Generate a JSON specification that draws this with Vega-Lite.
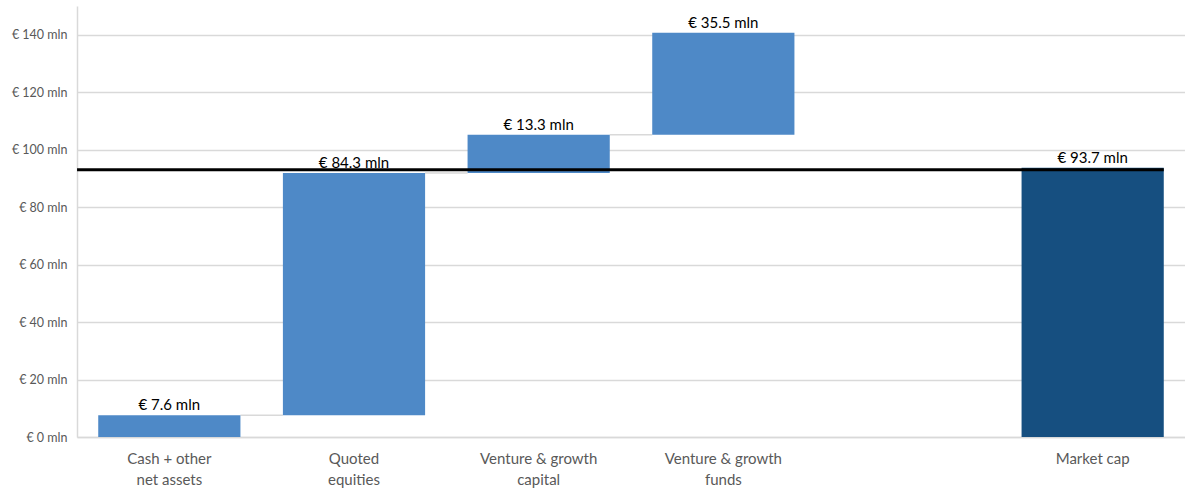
{
  "$schema": "https://vega.github.io/schema/vega-lite/v6.json",
  "width": 1108,
  "height": 431,
  "autosize": {"type": "none"},
  "padding": {"left": 77, "top": 6, "right": 0, "bottom": 53},
  "config": {
    "font": "Lato",
    "view": {"stroke": null},
    "axis": {"labelFont": "Lato", "titleFont": "Lato"}
  },
  "datasets": {
    "bars": [
      {"cat": "Cash + other|net assets", "start": 0, "end": 7.6, "label": "€ 7.6 mln", "kind": "step"},
      {"cat": "Quoted|equities", "start": 7.6, "end": 91.9, "label": "€ 84.3 mln", "kind": "step"},
      {"cat": "Venture & growth|capital", "start": 91.9, "end": 105.2, "label": "€ 13.3 mln", "kind": "step"},
      {"cat": "Venture & growth|funds", "start": 105.2, "end": 140.7, "label": "€ 35.5 mln", "kind": "step"},
      {"cat": "Market cap", "start": 0, "end": 93.7, "label": "€ 93.7 mln", "kind": "total"}
    ],
    "connectors": [
      {"from": "Cash + other|net assets", "to": "Quoted|equities", "level": 7.6},
      {"from": "Quoted|equities", "to": "Venture & growth|capital", "level": 91.9},
      {"from": "Venture & growth|capital", "to": "Venture & growth|funds", "level": 105.2}
    ],
    "refline": [
      {"from": "Cash + other|net assets", "to": "Market cap", "level": 93}
    ]
  },
  "layer": [
    {
      "data": {"name": "connectors"},
      "mark": {"type": "rule", "color": "#d9d9d9", "strokeWidth": 1.5},
      "encoding": {
        "x": {"field": "from", "type": "nominal", "bandPosition": 1},
        "x2": {"field": "to", "bandPosition": 0},
        "y": {"field": "level", "type": "quantitative"}
      }
    },
    {
      "data": {"name": "bars"},
      "mark": {"type": "bar"},
      "encoding": {
        "x": {
          "field": "cat",
          "type": "nominal",
          "sort": null,
          "scale": {
            "domain": ["Cash + other|net assets", "Quoted|equities", "Venture & growth|capital", "Venture & growth|funds", " ", "Market cap"],
            "paddingInner": 0.23,
            "paddingOuter": 0.115
          },
          "axis": {
            "title": null,
            "labelAngle": 0,
            "labelAlign": "center",
            "labelExpr": "split(datum.label, '|')",
            "labelFontSize": 15,
            "labelColor": "#595959",
            "labelPadding": 14,
            "labelLineHeight": 21,
            "labelBaseline": "top",
            "ticks": false,
            "domainColor": "#d9d9d9",
            "domainWidth": 1.5,
            "grid": false
          }
        },
        "y": {
          "field": "start",
          "type": "quantitative",
          "scale": {"domain": [0, 150], "nice": false},
          "axis": {
            "title": null,
            "values": [0, 20, 40, 60, 80, 100, 120, 140],
            "labelExpr": "'€ ' + datum.value + ' mln'",
            "labelFontSize": 12.5,
            "labelColor": "#595959",
            "labelPadding": 10,
            "ticks": false,
            "domainColor": "#d9d9d9",
            "domainWidth": 1.5,
            "grid": true,
            "gridColor": "#d9d9d9",
            "gridWidth": 1.5
          }
        },
        "y2": {"field": "end"},
        "color": {
          "field": "kind",
          "type": "nominal",
          "scale": {"domain": ["step", "total"], "range": ["#4e89c7", "#164f80"]},
          "legend": null
        }
      }
    },
    {
      "data": {"name": "bars"},
      "mark": {"type": "text", "baseline": "bottom", "dy": -2, "fontSize": 15, "color": "#000000", "font": "Lato"},
      "encoding": {
        "x": {"field": "cat", "type": "nominal"},
        "y": {"field": "end", "type": "quantitative"},
        "text": {"field": "label"}
      }
    },
    {
      "data": {"name": "refline"},
      "mark": {"type": "rule", "color": "#000000", "strokeWidth": 3},
      "encoding": {
        "x": {"field": "from", "type": "nominal", "bandPosition": -0.149},
        "x2": {"field": "to", "bandPosition": 1},
        "y": {"field": "level", "type": "quantitative"}
      }
    }
  ]
}
